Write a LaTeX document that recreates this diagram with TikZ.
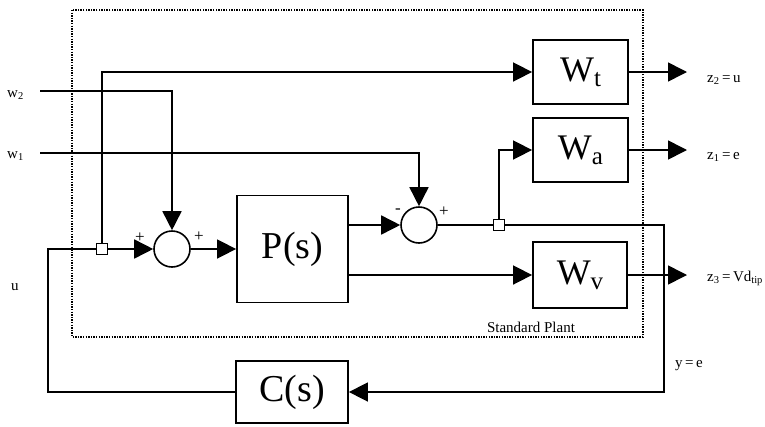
\documentclass[tikz,border=0pt]{standalone}
\usepackage{fontspec}
\setmainfont{Liberation Serif}
\usetikzlibrary{arrows.meta}
\newcommand{\Wsub}[1]{{\fontsize{36}{36}\selectfont W\raisebox{-5pt}{\fontsize{25}{25}\selectfont #1}}}
\newcommand{\eqs}{\kern2.5pt=\kern2.5pt}
\tikzset{
  blk/.style={draw, line width=1.8pt, inner sep=0pt, font=\fontsize{38}{38}\selectfont},
  sumnode/.style={circle, draw, line width=1.6pt, minimum size=36pt, inner sep=0pt},
  tap/.style={rectangle, draw, line width=1.4pt, fill=white, minimum size=11pt, inner sep=0pt},
  ln/.style={line width=1.6pt},
  arr/.style={ln, -{Triangle[length=19pt,width=19pt]}},
  lbl/.style={font=\fontsize{15}{15}\selectfont, inner sep=0pt},
  sgn/.style={font=\fontsize{17}{17}\selectfont, inner sep=0pt}
}
\begin{document}
\begin{tikzpicture}[x=1pt,y=-1pt]
\useasboundingbox (0,0) rectangle (765,426);
% standard plant frame
\draw[line width=1.8pt, dash pattern=on 1.4pt off 1.2pt] (72,10) rectangle (643,337);
\node[lbl, anchor=center] (sp) at (531,327) {Standard Plant};
% blocks
\node[blk, minimum width=111pt, minimum height=107pt] (P) at (292.5,249) {P(s)};
\node[blk, minimum width=112pt, minimum height=62pt] (C) at (292,392) {C(s)};
\node[blk, minimum width=95pt, minimum height=64pt] (Wt) at (580.5,72) {\Wsub{t}};
\node[blk, minimum width=95pt, minimum height=64pt] (Wa) at (580.5,150) {\Wsub{a}};
\node[blk, minimum width=94pt, minimum height=66pt] (Wv) at (580,275) {\Wsub{v}};
\node[sumnode] (s1) at (172,249) {};
\node[sumnode] (s2) at (419,225) {};
% coordinates
\coordinate (w2in) at (40,91);
\coordinate (w1in) at (40,153);
\coordinate (uc) at (48,249);
\coordinate (rc) at (664,225);
\coordinate (ot) at (687,72);
\coordinate (oa) at (687,150);
\coordinate (ov) at (687,275);
% connectors
\draw[ln] (C.west) -| (uc) -- (102,249);
\node[tap] (t1) at (102,249) {};
\draw[arr] (t1) -- (s1);
\draw[arr] (t1) |- (Wt);
\draw[arr] (w2in) -| (s1);
\draw[arr] (w1in) -| (s2);
\draw[arr] (s1) -- (P);
\draw[arr] (P.east |- s2) -- (s2);
\draw[arr] (P.east |- Wv) -- (Wv);
\draw[ln] (s2) -- (499,225);
\node[tap] (t2) at (499,225) {};
\draw[arr] (t2) -- (rc) |- (C);
\draw[arr] (t2) |- (Wa);
\draw[arr] (Wt) -- (ot);
\draw[arr] (Wa) -- (oa);
\draw[arr] (Wv) -- (ov);
% signs
\node[sgn] (p1) at (140,238) {+};
\node[sgn] (p2) at (199,237) {+};
\node[sgn] (m2) at (398,211) {-};
\node[sgn] (p3) at (444,212) {+};
% labels
\node[lbl, anchor=west] (lw2) at (7,95) {w\textsubscript{2}};
\node[lbl, anchor=west] (lw1) at (7,156) {w\textsubscript{1}};
\node[lbl, anchor=west] (lu) at (11,287) {u};
\node[lbl, anchor=west] (lz2) at (707,80) {z\textsubscript{2}\eqs u};
\node[lbl, anchor=west] (lz1) at (707,157) {z\textsubscript{1}\eqs e};
\node[lbl, anchor=west] (lz3) at (707,278) {z\textsubscript{3}\eqs Vd\textsubscript{tip}};
\node[lbl, anchor=west] (ly) at (675,366) {y\eqs e};
\end{tikzpicture}
\end{document}
